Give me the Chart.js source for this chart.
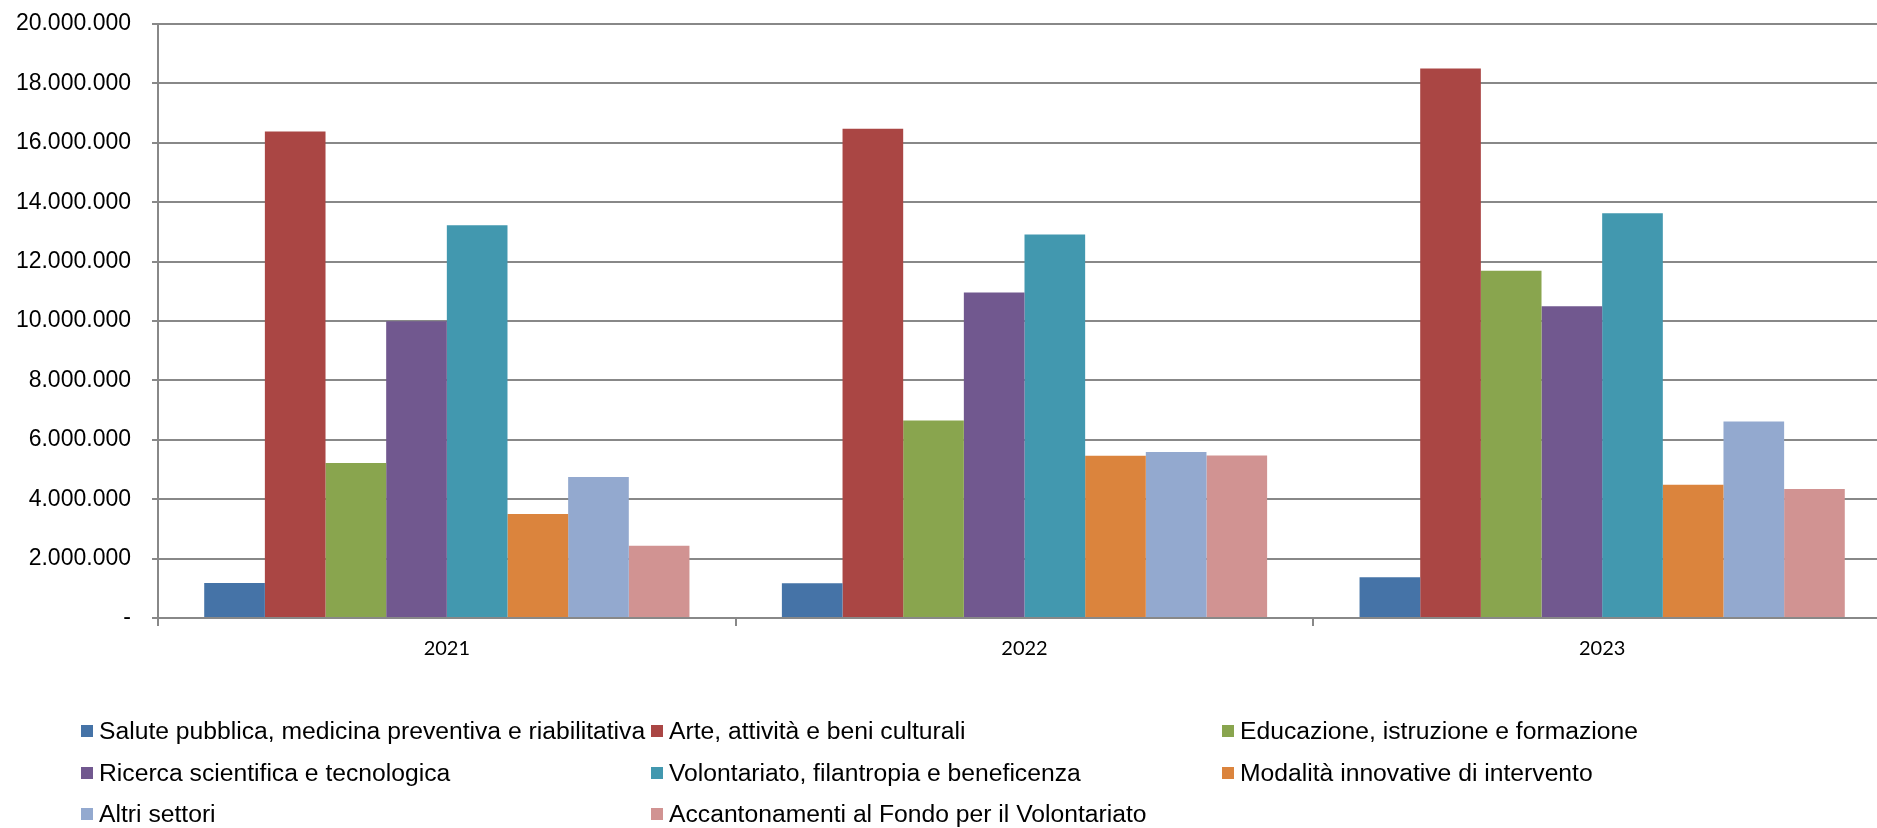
<!DOCTYPE html>
<html>
<head>
<meta charset="utf-8">
<script src="https://cdn.jsdelivr.net/npm/chart.js@4/dist/chart.umd.min.js"></script>
<style>
  body { margin: 0; overflow: hidden; background: #fff; }
  #wrap { position: relative; width: 1895px; height: 828px; }
  #legend { position: absolute; left: 0; top: 0; font-family: "Liberation Sans", Arial, sans-serif; font-size: 24.7px; color: #000; }
  .item { position: absolute; height: 24px; line-height: 24px; white-space: nowrap; }
  .box { position: absolute; left: 0; top: 6px; width: 12px; height: 12px; }
  .txt { position: absolute; left: 18px; top: 0; }
</style>
</head>
<body>
<div id="wrap">
  <canvas id="chart" width="1895" height="828"></canvas>
  <div id="legend"></div>
</div>
<script>
const anni = ['2021', '2022', '2023'];
const settori = [
  'Salute pubblica, medicina preventiva e riabilitativa',
  'Arte, attività e beni culturali',
  'Educazione, istruzione e formazione',
  'Ricerca scientifica e tecnologica',
  'Volontariato, filantropia e beneficenza',
  'Modalità innovative di intervento',
  'Altri settori',
  'Accantonamenti al Fondo per il Volontariato'
];
const salute = [1180000, 1170000, 1370000];
const arte = [16380000, 16470000, 18500000];
const educazione = [5220000, 6650000, 11690000];
const ricerca = [9990000, 10960000, 10500000];
const volontariato = [13220000, 12910000, 13630000];
const modalita = [3500000, 5460000, 4490000];
const altri = [4750000, 5590000, 6620000];
const accantonamenti = [2430000, 5470000, 4340000];
const colori = ['#4573A7', '#AA4644', '#89A54E', '#71588F', '#4298AF', '#DB843D', '#93A9CF', '#D19392'];

const serie = [salute, arte, educazione, ricerca, volontariato, modalita, altri, accantonamenti];

function formatta(v) {
  if (v === 0) return '-';
  return String(v).replace(/\B(?=(\d{3})+(?!\d))/g, '.');
}

const ctx = document.getElementById('chart').getContext('2d');
const chart = new Chart(ctx, {
  type: 'bar',
  data: {
    labels: anni,
    datasets: serie.map((d, i) => ({
      label: settori[i],
      data: d,
      backgroundColor: colori[i],
      borderWidth: 0,
      categoryPercentage: 0.84,
      barPercentage: 1.0
    }))
  },
  options: {
    responsive: false,
    animation: false,
    layout: { padding: { left: 16, top: 24, right: 4, bottom: 156 } },
    plugins: {
      legend: { display: false },
      tooltip: { enabled: false }
    },
    scales: {
      y: {
        min: 0,
        max: 20000000,
        afterFit: (s) => { s.width = 142; s.paddingTop = 0; s.paddingBottom = 0; },
        ticks: {
          stepSize: 2000000,
          padding: 21,
          color: '#000',
          font: { family: 'Liberation Sans', size: 23 },
          callback: (v) => formatta(v)
        },
        grid: { color: '#888888', lineWidth: 2, tickLength: 6 },
        border: { color: '#888888', width: 2 }
      },
      x: {
        ticks: {
          padding: 11,
          color: '#000',
          font: { family: 'Lato', size: 20 }
        },
        grid: { drawOnChartArea: false, color: '#888888', lineWidth: 2, tickLength: 8 },
        border: { color: '#888888', width: 2 }
      }
    }
  }
});

// legenda a tre colonne come nell'originale
const colX = [81, 651, 1222];
const rowY = [719, 761, 802];
const leg = document.getElementById('legend');
chart.data.datasets.forEach((ds, i) => {
  const it = document.createElement('div');
  it.className = 'item';
  it.style.left = colX[i % 3] + 'px';
  it.style.top = rowY[Math.floor(i / 3)] + 'px';
  const b = document.createElement('span');
  b.className = 'box';
  b.style.background = ds.backgroundColor;
  const t = document.createElement('span');
  t.className = 'txt';
  t.textContent = ds.label;
  it.appendChild(b);
  it.appendChild(t);
  leg.appendChild(it);
});
</script>
</body>
</html>
